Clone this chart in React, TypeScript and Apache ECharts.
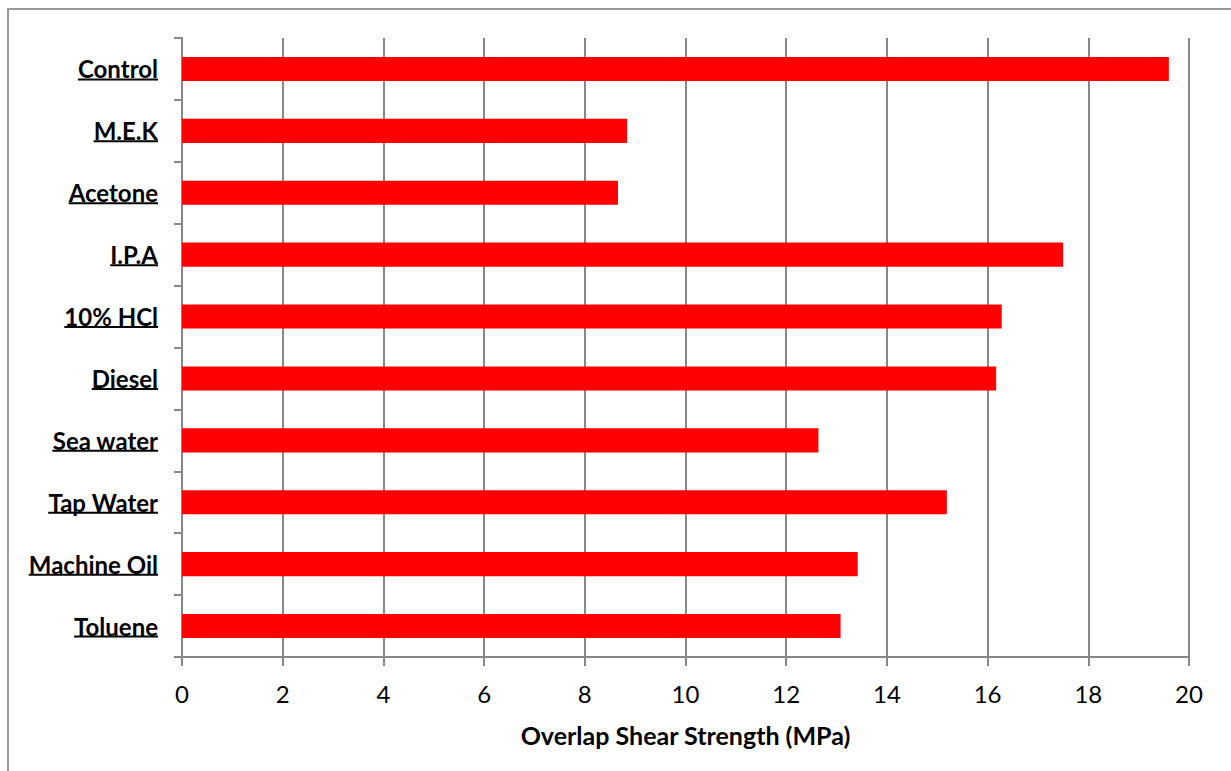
import React, { useEffect, useRef } from "react";
import * as echarts from "echarts";

const categories = [
  "Control",
  "M.E.K",
  "Acetone",
  "I.P.A",
  "10% HCl",
  "Diesel",
  "Sea water",
  "Tap Water",
  "Machine Oil",
  "Toluene",
];
const strength = [19.6, 8.84, 8.66, 17.5, 16.28, 16.17, 12.64, 15.19, 13.42, 13.08];
const xTitle = "Overlap Shear Strength (MPa)";

const FONT = "Lato, 'Open Sans', 'Liberation Sans', sans-serif";
const LABEL_SIZE = 24;
const LABEL_MARGIN = 24;
const GRID = { left: 182, right: 42, top: 38, bottom: 114 };

export default function App() {
  const ref = useRef<HTMLDivElement>(null);

  useEffect(() => {
    document.body.style.margin = "0";
    const chart = echarts.init(ref.current!, undefined, { renderer: "svg" });
    chart.setOption({
      animation: false,
      backgroundColor: "#ffffff",
      grid: { ...GRID, containLabel: false },
      xAxis: {
        type: "value",
        min: 0,
        max: 20,
        interval: 2,
        name: xTitle,
        nameLocation: "middle",
        nameGap: 65,
        nameTextStyle: { fontFamily: FONT, fontWeight: "bold", fontSize: 25, color: "#000" },
        axisLine: { show: true, lineStyle: { color: "#888", width: 2 } },
        axisTick: { show: true, length: 9, lineStyle: { color: "#888", width: 2 } },
        axisLabel: { fontFamily: FONT, fontSize: 24, color: "#000", margin: 24 },
        splitLine: { show: true, lineStyle: { color: "#888", width: 2 } },
      },
      yAxis: {
        type: "category",
        data: categories,
        inverse: true,
        axisLine: { show: true, lineStyle: { color: "#888", width: 2 } },
        axisTick: { show: true, length: 8, lineStyle: { color: "#888", width: 2 } },
        axisLabel: {
          fontFamily: FONT,
          fontWeight: "bold",
          fontSize: LABEL_SIZE,
          color: "#000",
          margin: LABEL_MARGIN,
        },
        splitLine: { show: false },
      },
      series: [
        {
          type: "bar",
          data: strength,
          barWidth: "39%",
          itemStyle: { color: "#ff0000" },
        },
      ],
    });

    // underline each category label
    const canvas = document.createElement("canvas");
    const ctx = canvas.getContext("2d")!;
    ctx.font = `bold ${LABEL_SIZE}px ${FONT}`;
    const rightX = GRID.left - LABEL_MARGIN;
    const underlines = categories.map((c) => {
      const y = chart.convertToPixel({ yAxisIndex: 0 }, c) as number;
      const w = ctx.measureText(c).width;
      return {
        type: "line",
        silent: true,
        shape: { x1: rightX - w, y1: y + 10.5, x2: rightX, y2: y + 10.5 },
        style: { stroke: "#000", lineWidth: 2 },
      };
    });

    chart.setOption({
      graphic: [
        {
          type: "rect",
          silent: true,
          shape: { x: 8, y: 9, width: 1400, height: 900 },
          style: { fill: "none", stroke: "#999", lineWidth: 2 },
        },
        ...underlines,
      ],
    });

    return () => chart.dispose();
  }, []);

  return <div ref={ref} style={{ width: 1231, height: 771 }} />;
}
